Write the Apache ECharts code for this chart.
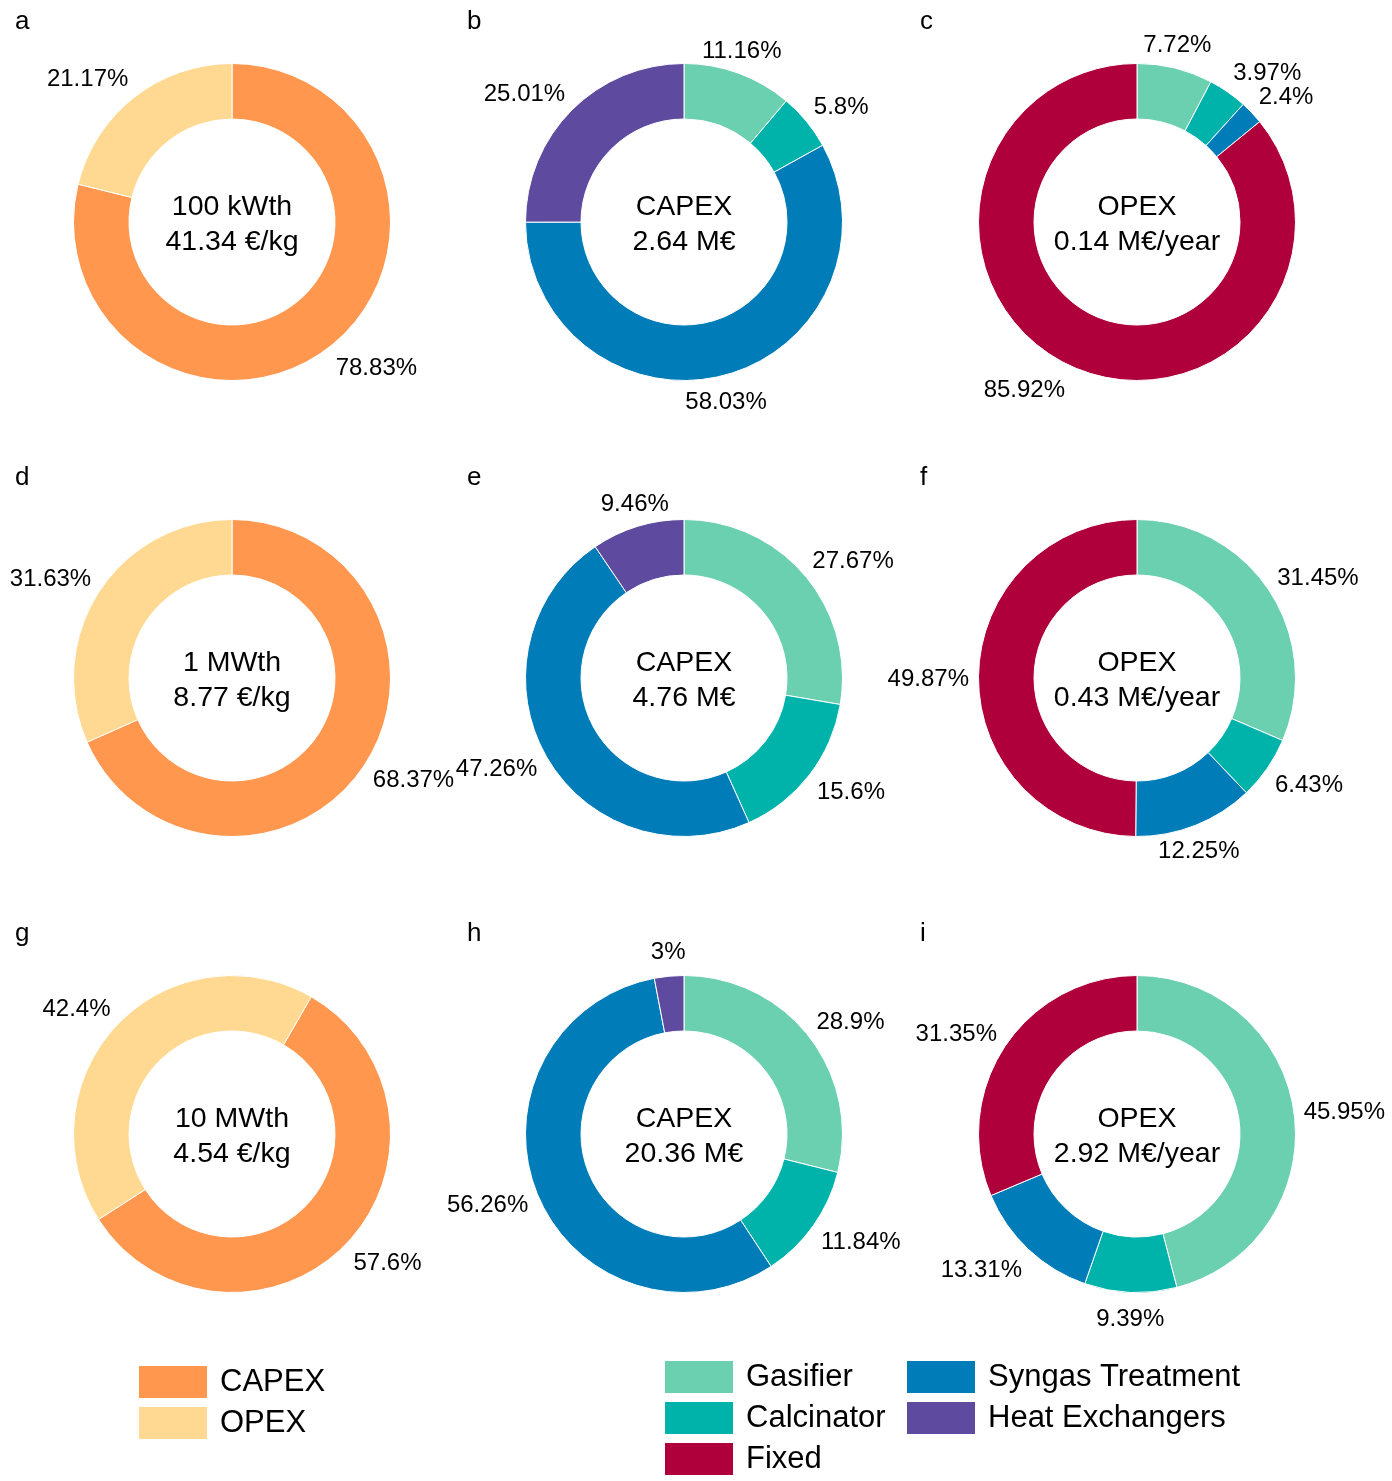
<!DOCTYPE html>
<html>
<head>
<meta charset="utf-8">
<script src="https://cdn.jsdelivr.net/npm/echarts@6/dist/echarts.min.js"></script>
<style>
  html, body { margin: 0; padding: 0; background: #fff; }
  #main { width: 1392px; height: 1481px; }
</style>
</head>
<body>
<div id="main"></div>
<script>
// categories
const costParts = ['CAPEX', 'OPEX'];
const capexParts = ['Gasifier', 'Calcinator', 'Syngas Treatment', 'Heat Exchangers'];
const opexParts = ['Gasifier', 'Calcinator', 'Syngas Treatment', 'Fixed'];
const panelLetters = ['a', 'b', 'c', 'd', 'e', 'f', 'g', 'h', 'i'];

// centre texts, one per row
const plantSize = ['100 kWth', '1 MWth', '10 MWth'];
const costPerKg = ['41.34 €/kg', '8.77 €/kg', '4.54 €/kg'];
const capexTotal = ['2.64 M€', '4.76 M€', '20.36 M€'];
const opexTotal = ['0.14 M€/year', '0.43 M€/year', '2.92 M€/year'];

// shares in %, one array per row
const costShare = [[78.83, 21.17], [68.37, 31.63], [57.6, 42.4]];
const capexShare = [[11.16, 5.8, 58.03, 25.01], [27.67, 15.6, 47.26, 9.46], [28.9, 11.84, 56.26, 3]];
const opexShare = [[7.72, 3.97, 2.4, 85.92], [31.45, 6.43, 12.25, 49.87], [45.95, 9.39, 13.31, 31.35]];

const partColor = {
    'CAPEX': '#FF974F',
    'OPEX': '#FFD991',
    'Gasifier': '#6AD0AF',
    'Calcinator': '#00B3AA',
    'Syngas Treatment': '#007DB9',
    'Heat Exchangers': '#5E4B9F',
    'Fixed': '#AF003C'
};

const font = 'Liberation Sans, Arial, sans-serif';
const colX = [232, 684, 1137];
const rowY = [222, 678, 1134];
// first slice starts at 12 o'clock, except panel g which is turned ~30°
const startAngles = [[90, 90, 90], [90, 90, 90], [60, 90, 90]];

// anchor sits a little outside the ring (more so vertically);
// labels near top/bottom are centred on it, the others hang left/right of it
function placeLabel(params) {
    const pts = params.labelLinePoints;
    if (!pts) return {};
    const vx = pts[1][0] - pts[0][0], vy = pts[1][1] - pts[0][1];
    const len = Math.hypot(vx, vy) || 1;
    const dx = vx / len, dy = vy / len;
    const x = pts[0][0] + dx * 9.5, y = pts[0][1] + dy * 25.5 + 2;
    let align = 'center';
    if (Math.abs(dx) >= 0.4) align = dx > 0 ? 'left' : 'right';
    return { x: x, y: y, align: align, verticalAlign: 'middle' };
}

function donut(names, values, cx, cy, start) {
    return {
        type: 'pie',
        center: [cx, cy],
        radius: [103, 158.5],
        startAngle: start,
        clockwise: true,
        avoidLabelOverlap: false,
        silent: true,
        emphasis: { disabled: true },
        itemStyle: { borderColor: '#fff', borderWidth: 1 },
        label: {
            show: true,
            position: 'outside',
            formatter: '{c}%',
            fontSize: 24,
            fontFamily: font,
            color: '#000'
        },
        labelLine: { show: true, length: 10, length2: 0, lineStyle: { opacity: 0, width: 0 } },
        labelLayout: placeLabel,
        data: names.map((n, k) => ({ name: n, value: values[k], itemStyle: { color: partColor[n] } }))
    };
}

const series = [];
const graphic = [];
for (let r = 0; r < 3; r++) {
    series.push(donut(costParts, costShare[r], colX[0], rowY[r], startAngles[r][0]));
    series.push(donut(capexParts, capexShare[r], colX[1], rowY[r], startAngles[r][1]));
    series.push(donut(opexParts, opexShare[r], colX[2], rowY[r], startAngles[r][2]));
    const centreText = [
        plantSize[r] + '\n' + costPerKg[r],
        'CAPEX\n' + capexTotal[r],
        'OPEX\n' + opexTotal[r]
    ];
    for (let c = 0; c < 3; c++) {
        graphic.push({
            type: 'text', x: colX[c], y: rowY[r] + 2.5, silent: true,
            style: {
                text: centreText[c], textAlign: 'center', textVerticalAlign: 'middle',
                fontSize: 28.5, lineHeight: 35, fontFamily: font, fill: '#000'
            }
        });
        graphic.push({
            type: 'text', x: colX[c] - 217, y: rowY[r] - 200, silent: true,
            style: {
                text: panelLetters[r * 3 + c], textAlign: 'left', textVerticalAlign: 'middle',
                fontSize: 26, fontFamily: font, fill: '#000'
            }
        });
    }
}

function legendBox(names, left, top) {
    return {
        data: names,
        orient: 'vertical',
        left: left,
        top: top,
        padding: 0,
        icon: 'rect',
        symbolKeepAspect: false,
        itemWidth: 70,
        itemHeight: 34,
        itemGap: 5,
        selectedMode: false,
        textStyle: { fontSize: 31, fontFamily: font, color: '#000', padding: [0, 0, 0, 7] }
    };
}

const chart = echarts.init(document.getElementById('main'), null, { renderer: 'canvas' });
chart.setOption({
    backgroundColor: '#fff',
    animation: false,
    legend: [
        legendBox(costParts, 137, 1364),
        legendBox(['Gasifier', 'Calcinator', 'Fixed'], 663, 1359),
        legendBox(['Syngas Treatment', 'Heat Exchangers'], 905, 1359)
    ],
    graphic: graphic,
    series: series
});
</script>
</body>
</html>
